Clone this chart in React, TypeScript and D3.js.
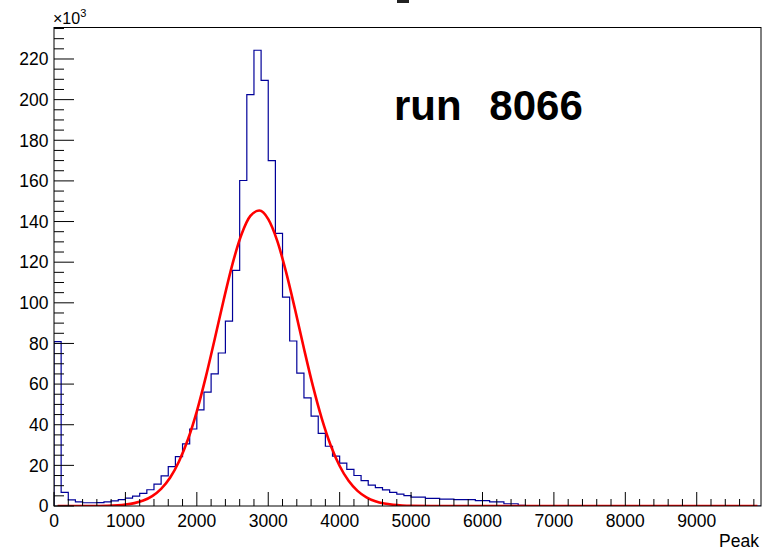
import React, { useEffect, useRef } from 'react';
import * as d3 from 'd3';

// histogram: bin low edges (width 100), counts in thousands
const binLow = d3.range(0, 9900, 100);
const counts = [
  80.9, 6.7, 3.0, 2.0, 1.6, 1.6, 1.7, 2.0, 2.5, 3.1,
  3.9, 4.9, 6.2, 8.0, 10.8, 14.8, 19.4, 24.3, 30.6, 37.9,
  47.3, 56.0, 65.0, 75.3, 91.0, 116.0, 160.2, 202.5, 224.3, 209.5,
  170.0, 134.2, 102.8, 81.2, 65.4, 53.2, 44.2, 35.7, 29.4, 24.5,
  21.1, 18.0, 15.0, 12.5, 10.3, 9.0, 7.9, 6.7, 5.8, 5.1,
  4.4, 4.4, 3.8, 3.8, 3.4, 3.4, 3.1, 3.1, 3.1, 2.6,
  2.6, 2.0, 2.0, 1.1, 1.1, 0.3, 0, 0, 0, 0,
  0, 0, 0, 0, 0, 0, 0, 0, 0, 0,
  0, 0, 0, 0, 0, 0, 0, 0, 0, 0,
  0, 0, 0, 0, 0, 0, 0, 0, 0,
];

// gaussian fit curve (thousands)
const fitX = [
  50, 500, 750, 1000, 1125, 1250, 1375, 1500, 1625, 1750, 1875, 2000, 2125, 2250, 2375,
  2500, 2625, 2750, 2875, 3000, 3125, 3250, 3375, 3500, 3625, 3750, 3875, 4000,
  4125, 4250, 4375, 4500, 4625, 4750, 4875, 5000, 5500, 9850,
];
const fitY = [
  0, 0.03, 0.15, 0.71, 1.42, 2.69, 4.88, 8.45, 13.9, 21.9, 32.7, 46.6, 63.4, 82.1, 101.3,
  119.2, 133.6, 142.8, 145.4, 141.2, 130.6, 115.1, 96.8, 77.5, 59.1, 43.0, 29.8, 19.7,
  12.4, 7.44, 4.26, 2.32, 1.2, 0.6, 0.28, 0.13, 0, 0,
];

const xDomain = [0, 9900];
const yDomain = [0, 235.5];
const xMinorStep = 200;
const yMinorStep = 5;
const runLabel = 'run 8066';
const xTitle = 'Peak';

const FONT = '"Liberation Sans", Arial, Helvetica, sans-serif';

function HistPlot() {
  const svgRef = useRef<SVGSVGElement>(null);

  useEffect(() => {
    const width = 769;
    const height = 552;
    const frame = { left: 54, right: 761, top: 27.5, bottom: 506 };

    const svg = d3.select(svgRef.current)
      .attr('width', width)
      .attr('height', height);
    svg.selectAll('*').remove();

    const x = d3.scaleLinear().domain(xDomain).range([frame.left, frame.right]);
    const y = d3.scaleLinear().domain(yDomain).range([frame.bottom, frame.top]);

    // clipped plot area
    svg.append('clipPath').attr('id', 'frameClip')
      .append('rect')
      .attr('x', frame.left).attr('y', frame.top)
      .attr('width', frame.right - frame.left)
      .attr('height', frame.bottom - frame.top);

    const plot = svg.append('g').attr('clip-path', 'url(#frameClip)');

    // histogram step outline
    const pts: [number, number][] = [[x(0), y(0)]];
    binLow.forEach((lo, i) => {
      pts.push([x(lo), y(counts[i])]);
      pts.push([x(lo + 100), y(counts[i])]);
    });
    pts.push([x(xDomain[1]), y(0)]);

    plot.append('path')
      .attr('d', d3.line()(pts))
      .attr('fill', 'none')
      .attr('stroke', '#000099')
      .attr('stroke-width', 1.2);

    // fit curve
    const fitLine = d3.line<number>()
      .x((d, i) => x(fitX[i]))
      .y(d => y(d))
      .curve(d3.curveMonotoneX);

    plot.append('path')
      .attr('d', fitLine(fitY))
      .attr('fill', 'none')
      .attr('stroke', '#ff0000')
      .attr('stroke-width', 2.6);

    // frame
    svg.append('rect')
      .attr('x', frame.left).attr('y', frame.top)
      .attr('width', frame.right - frame.left)
      .attr('height', frame.bottom - frame.top)
      .attr('fill', 'none')
      .attr('stroke', '#000')
      .attr('stroke-width', 1);

    const axes = svg.append('g').attr('stroke', '#000').attr('stroke-width', 1);

    // x axis ticks (drawn inward)
    d3.range(0, xDomain[1] + 1, xMinorStep).forEach(v => {
      const major = v % 1000 === 0;
      axes.append('line')
        .attr('x1', x(v)).attr('x2', x(v))
        .attr('y1', frame.bottom).attr('y2', frame.bottom - (major ? 14 : 7));
    });
    // y axis ticks
    d3.range(0, yDomain[1], yMinorStep).forEach(v => {
      const major = v % 20 === 0;
      axes.append('line')
        .attr('x1', frame.left).attr('x2', frame.left + (major ? 20 : 10))
        .attr('y1', y(v)).attr('y2', y(v));
    });

    // x tick labels
    svg.append('g').selectAll('text')
      .data(x.ticks(10))
      .enter()
      .append('text')
      .attr('x', d => x(d))
      .attr('y', 527)
      .attr('text-anchor', 'middle')
      .attr('font-family', FONT)
      .attr('font-size', '17.5px')
      .attr('fill', '#000')
      .text(d => d3.format('d')(d));

    // y tick labels
    svg.append('g').selectAll('text')
      .data(y.ticks(12))
      .enter()
      .append('text')
      .attr('x', 48.5)
      .attr('y', d => y(d))
      .attr('dy', '0.36em')
      .attr('text-anchor', 'end')
      .attr('font-family', FONT)
      .attr('font-size', '17.5px')
      .attr('fill', '#000')
      .text(d => d3.format('d')(d));

    // x10^3 exponent label
    const expo = svg.append('text')
      .attr('x', 53)
      .attr('y', 24)
      .attr('font-family', FONT)
      .attr('font-size', '16px')
      .attr('fill', '#000');
    expo.append('tspan').text('\u00d710');
    expo.append('tspan').attr('dy', -7).attr('font-size', '11px').text('3');

    // axis title
    svg.append('text')
      .attr('x', 759)
      .attr('y', 547)
      .attr('text-anchor', 'end')
      .attr('font-family', FONT)
      .attr('font-size', '17.5px')
      .attr('fill', '#000')
      .text(xTitle);

    // run label
    svg.append('text')
      .attr('x', 394)
      .attr('y', 120)
      .attr('font-family', FONT)
      .attr('font-size', '42px')
      .attr('font-weight', 'bold')
      .attr('word-spacing', '16px')
      .attr('fill', '#000')
      .text(runLabel);

    // cut-off title at top
    svg.append('rect')
      .attr('x', 397).attr('y', 0)
      .attr('width', 12).attr('height', 3)
      .attr('fill', '#222');
  }, []);

  return <svg ref={svgRef} style={{ display: 'block' }}></svg>;
}

export default function App() {
  return (
    <div>
      <style>{'body { margin: 0; background: #fff; }'}</style>
      <HistPlot />
    </div>
  );
}
